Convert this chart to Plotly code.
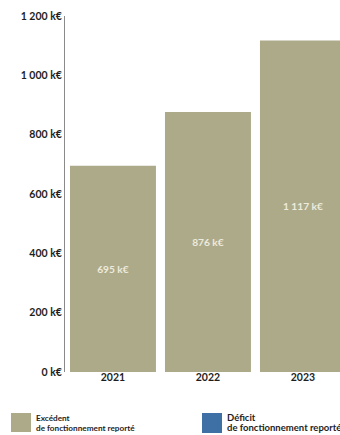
import plotly.graph_objects as go

# Résultat de fonctionnement reporté, en k€
years = ["2021", "2022", "2023"]
excedent = [695, 876, 1117]
y_ticks = [0, 200, 400, 600, 800, 1000, 1200]
y_tick_text = ["{:,} k€".format(v).replace(",", " ") for v in y_ticks]

legend_labels = [
    ("Excédent", "de fonctionnement reporté"),
    ("Déficit", "de fonctionnement reporté"),
]

COL_EXC = "#ADAA8A"
COL_DEF = "#3E6FA5"
TXT = "#1E1E1E"
FONT = "Lato"

W, H = 340, 435
L, R, T, B = 65, 0, 16, 63
pw, ph = W - L - R, H - T - B


def px(x):
    return (x - L) / pw


def py(y):
    return (H - B - y) / ph


fig = go.Figure()
fig.add_trace(go.Bar(
    x=years,
    y=excedent,
    marker=dict(color=COL_EXC, line=dict(width=0)),
    texttemplate="%{y:,.0f} k€",
    textposition="inside",
    insidetextanchor="middle",
    textangle=0,
    textfont=dict(family=FONT, size=10.2, color="#EEEBDD", weight="bold"),
    hoverinfo="skip",
    showlegend=False,
))

# Legend swatches and labels
shapes = []
annotations = []
swatches = [(11, 31, 413, 432, COL_EXC, 34, 418, 428, 8.2),
            (202, 222, 413, 433, COL_DEF, 225, 417, 427, 9.5)]
for (x0, x1, y0, y1, col, tx, ty1, ty2, fs), (l1, l2) in zip(swatches, legend_labels):
    shapes.append(dict(type="rect", xref="paper", yref="paper",
                       x0=px(x0), x1=px(x1), y0=py(y1), y1=py(y0),
                       fillcolor=col, line=dict(width=0)))
    for txt, ty in ((l1, ty1), (l2, ty2)):
        annotations.append(dict(text=txt, xref="paper", yref="paper",
                                x=px(tx), y=py(ty), xanchor="left", yanchor="middle",
                                showarrow=False,
                                font=dict(family=FONT, size=fs, color=TXT, weight="bold")))

fig.update_layout(
    width=W, height=H,
    margin=dict(l=L, r=R, t=T, b=B),
    paper_bgcolor="white",
    plot_bgcolor="white",
    separators=", ",
    bargap=0.095,
    shapes=shapes,
    annotations=annotations,
    xaxis=dict(
        range=[-0.505, 2.39],
        showline=False, showgrid=False, zeroline=False,
        ticks="", ticklabelstandoff=-3,
        tickfont=dict(family=FONT, size=10.5, color=TXT, weight="bold"),
    ),
    yaxis=dict(
        range=[0, 1200],
        tickvals=y_ticks,
        ticktext=y_tick_text,
        showline=True, linecolor="#8A8A8A", linewidth=1,
        showgrid=False, zeroline=False, ticks="",
        tickfont=dict(family=FONT, size=10.5, color=TXT, weight="bold"),
    ),
)

fig.write_html("out.html")
